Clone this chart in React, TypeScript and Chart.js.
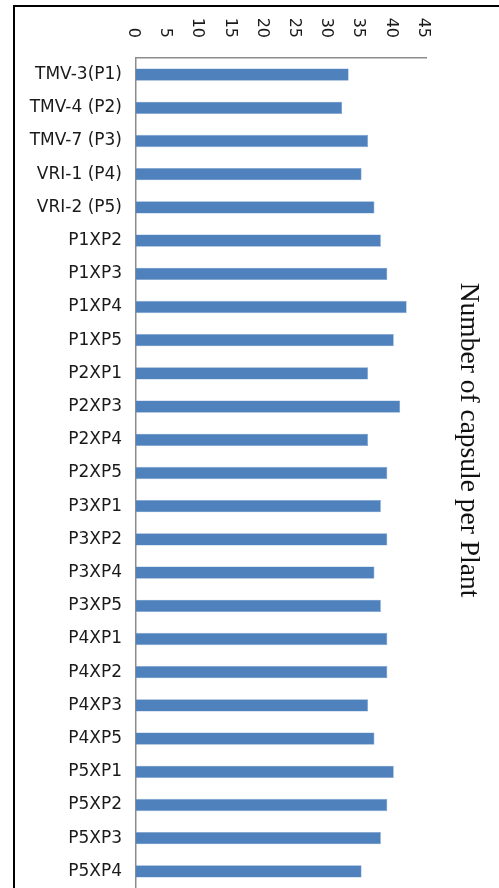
import React, { useEffect, useRef } from "react";
import { Chart, registerables } from "chart.js";

Chart.register(...registerables);

const categories: string[] = [
  "TMV-3(P1)", "TMV-4 (P2)", "TMV-7 (P3)", "VRI-1 (P4)", "VRI-2 (P5)",
  "P1XP2", "P1XP3", "P1XP4", "P1XP5",
  "P2XP1", "P2XP3", "P2XP4", "P2XP5",
  "P3XP1", "P3XP2", "P3XP4", "P3XP5",
  "P4XP1", "P4XP2", "P4XP3", "P4XP5",
  "P5XP1", "P5XP2", "P5XP3", "P5XP4",
];

const capsules: number[] = [
  33, 32, 36, 35, 37,
  38, 39, 42, 40,
  36, 41, 36, 39,
  38, 39, 37, 38,
  39, 39, 36, 37,
  40, 39, 38, 35,
];

const tickValues: number[] = [0, 5, 10, 15, 20, 25, 30, 35, 40, 45];
const axisTitle = "Number of capsule per Plant";

const rotatedTicksPlugin = {
  id: "rotatedTicks",
  afterDraw(chart: any) {
    const ctx = chart.ctx;
    const xs = chart.scales.x;
    ctx.save();
    ctx.fillStyle = "#1a1a1a";
    ctx.font = '16px "DejaVu Sans", sans-serif';
    ctx.textAlign = "right";
    ctx.textBaseline = "middle";
    for (const v of tickValues) {
      const px = xs.getPixelForValue(v) - 3;
      ctx.save();
      ctx.translate(px, 38);
      ctx.rotate(Math.PI / 2);
      ctx.fillText(String(v), 0, 0);
      ctx.restore();
    }
    ctx.font = '27.5px "Liberation Serif", "Times New Roman", serif';
    ctx.fillStyle = "#111";
    ctx.textAlign = "center";
    ctx.save();
    ctx.translate(468, 440);
    ctx.rotate(Math.PI / 2);
    ctx.fillText(axisTitle, 0, 0);
    ctx.restore();
    ctx.restore();
  },
};

export default function App() {
  const ref = useRef<HTMLCanvasElement | null>(null);
  useEffect(() => {
    if (!ref.current) return;
    const chart = new Chart(ref.current, {
      type: "bar",
      data: {
        labels: categories,
        datasets: [
          {
            data: capsules,
            backgroundColor: "#4F81BD",
            borderColor: "#7A9FCF",
            borderWidth: 0.6,
            categoryPercentage: 1,
            barPercentage: 0.37,
          },
        ],
      },
      options: {
        indexAxis: "y",
        animation: false,
        responsive: false,
        layout: { padding: { top: 58, right: 73, bottom: 0, left: 0 } },
        plugins: { legend: { display: false }, tooltip: { enabled: false }, title: { display: false } },
        scales: {
          x: {
            position: "top",
            min: 0,
            max: 45,
            ticks: { display: false, stepSize: 5 },
            grid: { display: false, drawTicks: false },
            border: { display: true, color: "#8c8c8c", width: 1.5 },
            afterFit: (s: any) => { s.height = 0; s.paddingLeft = 0; s.paddingRight = 0; },
          },
          y: {
            ticks: {
              color: "#1a1a1a",
              padding: 14,
              font: { family: '"DejaVu Sans", sans-serif', size: 17 },
              autoSkip: false,
            },
            grid: { display: false, drawTicks: false },
            border: { display: true, color: "#8c8c8c", width: 1.5 },
            afterFit: (s: any) => { s.width = 136; s.paddingTop = 0; s.paddingBottom = 0; },
          },
        },
      },
      plugins: [rotatedTicksPlugin],
    });
    return () => chart.destroy();
  }, []);
  return (
    <div style={{ position: "absolute", left: 0, top: 0, width: 499, height: 888, background: "#fff", overflow: "hidden" }}>
      <div style={{ position: "absolute", left: 13, top: 5, width: 499, height: 900, borderLeft: "2px solid #000", borderTop: "2px solid #000" }} />
      <canvas ref={ref} width={499} height={888} style={{ position: "absolute", left: 0, top: 0, width: 499, height: 888 }} />
    </div>
  );
}
